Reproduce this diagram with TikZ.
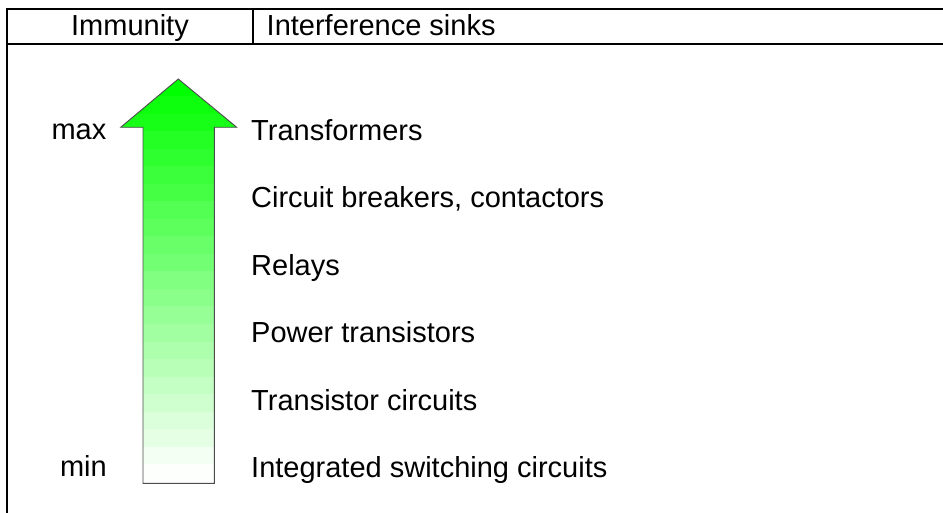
\documentclass[tikz,border=0pt]{standalone}
\usepackage{fontspec}
\setmainfont{Liberation Sans}
\begin{document}
\begin{tikzpicture}[x=1pt,y=-1pt,
  lbl/.style={anchor=base west,inner sep=0pt,font=\fontsize{29}{34}\selectfont},
  lblr/.style={anchor=base east,inner sep=0pt,font=\fontsize{29}{34}\selectfont},
  hdr/.style={anchor=base,inner sep=0pt,font=\fontsize{29}{34}\selectfont},
  rulethick/.style={line width=2pt,black,line cap=rect},
  arrowline/.style={draw=gray!60!black,line width=0.9pt,line join=miter}]
\useasboundingbox (0,0) rectangle (943,513);
% table rules
\coordinate (tl) at (7,9);
\coordinate (tr) at (943,9);
\coordinate (hl) at (7,44.3);
\coordinate (hr) at (943,44.3);
\coordinate (bl) at (7,513);
\coordinate (dt) at (253,9);
\coordinate (db) at (253,44.3);
\draw[rulethick] (tr) -- (tl) -- (bl);
\draw[rulethick] (hl) -- (hr);
\draw[line width=1.6pt] (dt) -- (db);
% header
\node[hdr] (imm) at (130,36) {Immunity};
\node[lbl] (sinks) at (266.5,36) {Interference sinks};
% arrow
\begin{scope}
\clip (178.3,79) -- (236.7,127.3) -- (214.3,127.3) -- (214.3,483.3) -- (143,483.3) -- (143,127.3) -- (120.7,127.3) -- cycle;
\foreach \i in {0,...,23}{
  \pgfmathtruncatemacro\f{max(0,100-4.5*\i)}
  \fill[green!\f!white] (100,{79+17.5*\i}) rectangle (260,{79+17.5*(\i+1)+0.6});
}
\end{scope}
\path[arrowline] (178.3,79) -- (236.7,127.3) -- (214.3,127.3) -- (214.3,483.3) -- (143,483.3) -- (143,127.3) -- (120.7,127.3) -- cycle;
% scale labels
\node[lblr] (max) at (106.5,140) {max};
\node[lblr] (min) at (107,476.5) {min};
% sinks
\node[lbl] (s1) at (251,140.7) {Transformers};
\node[lbl] (s2) at (251,208) {Circuit breakers, contactors};
\node[lbl] (s3) at (251,275.3) {Relays};
\node[lbl] (s4) at (251,342.6) {Power transistors};
\node[lbl] (s5) at (251,410.5) {Transistor circuits};
\node[lbl] (s6) at (251,477.3) {Integrated switching circuits};
\end{tikzpicture}
\end{document}
